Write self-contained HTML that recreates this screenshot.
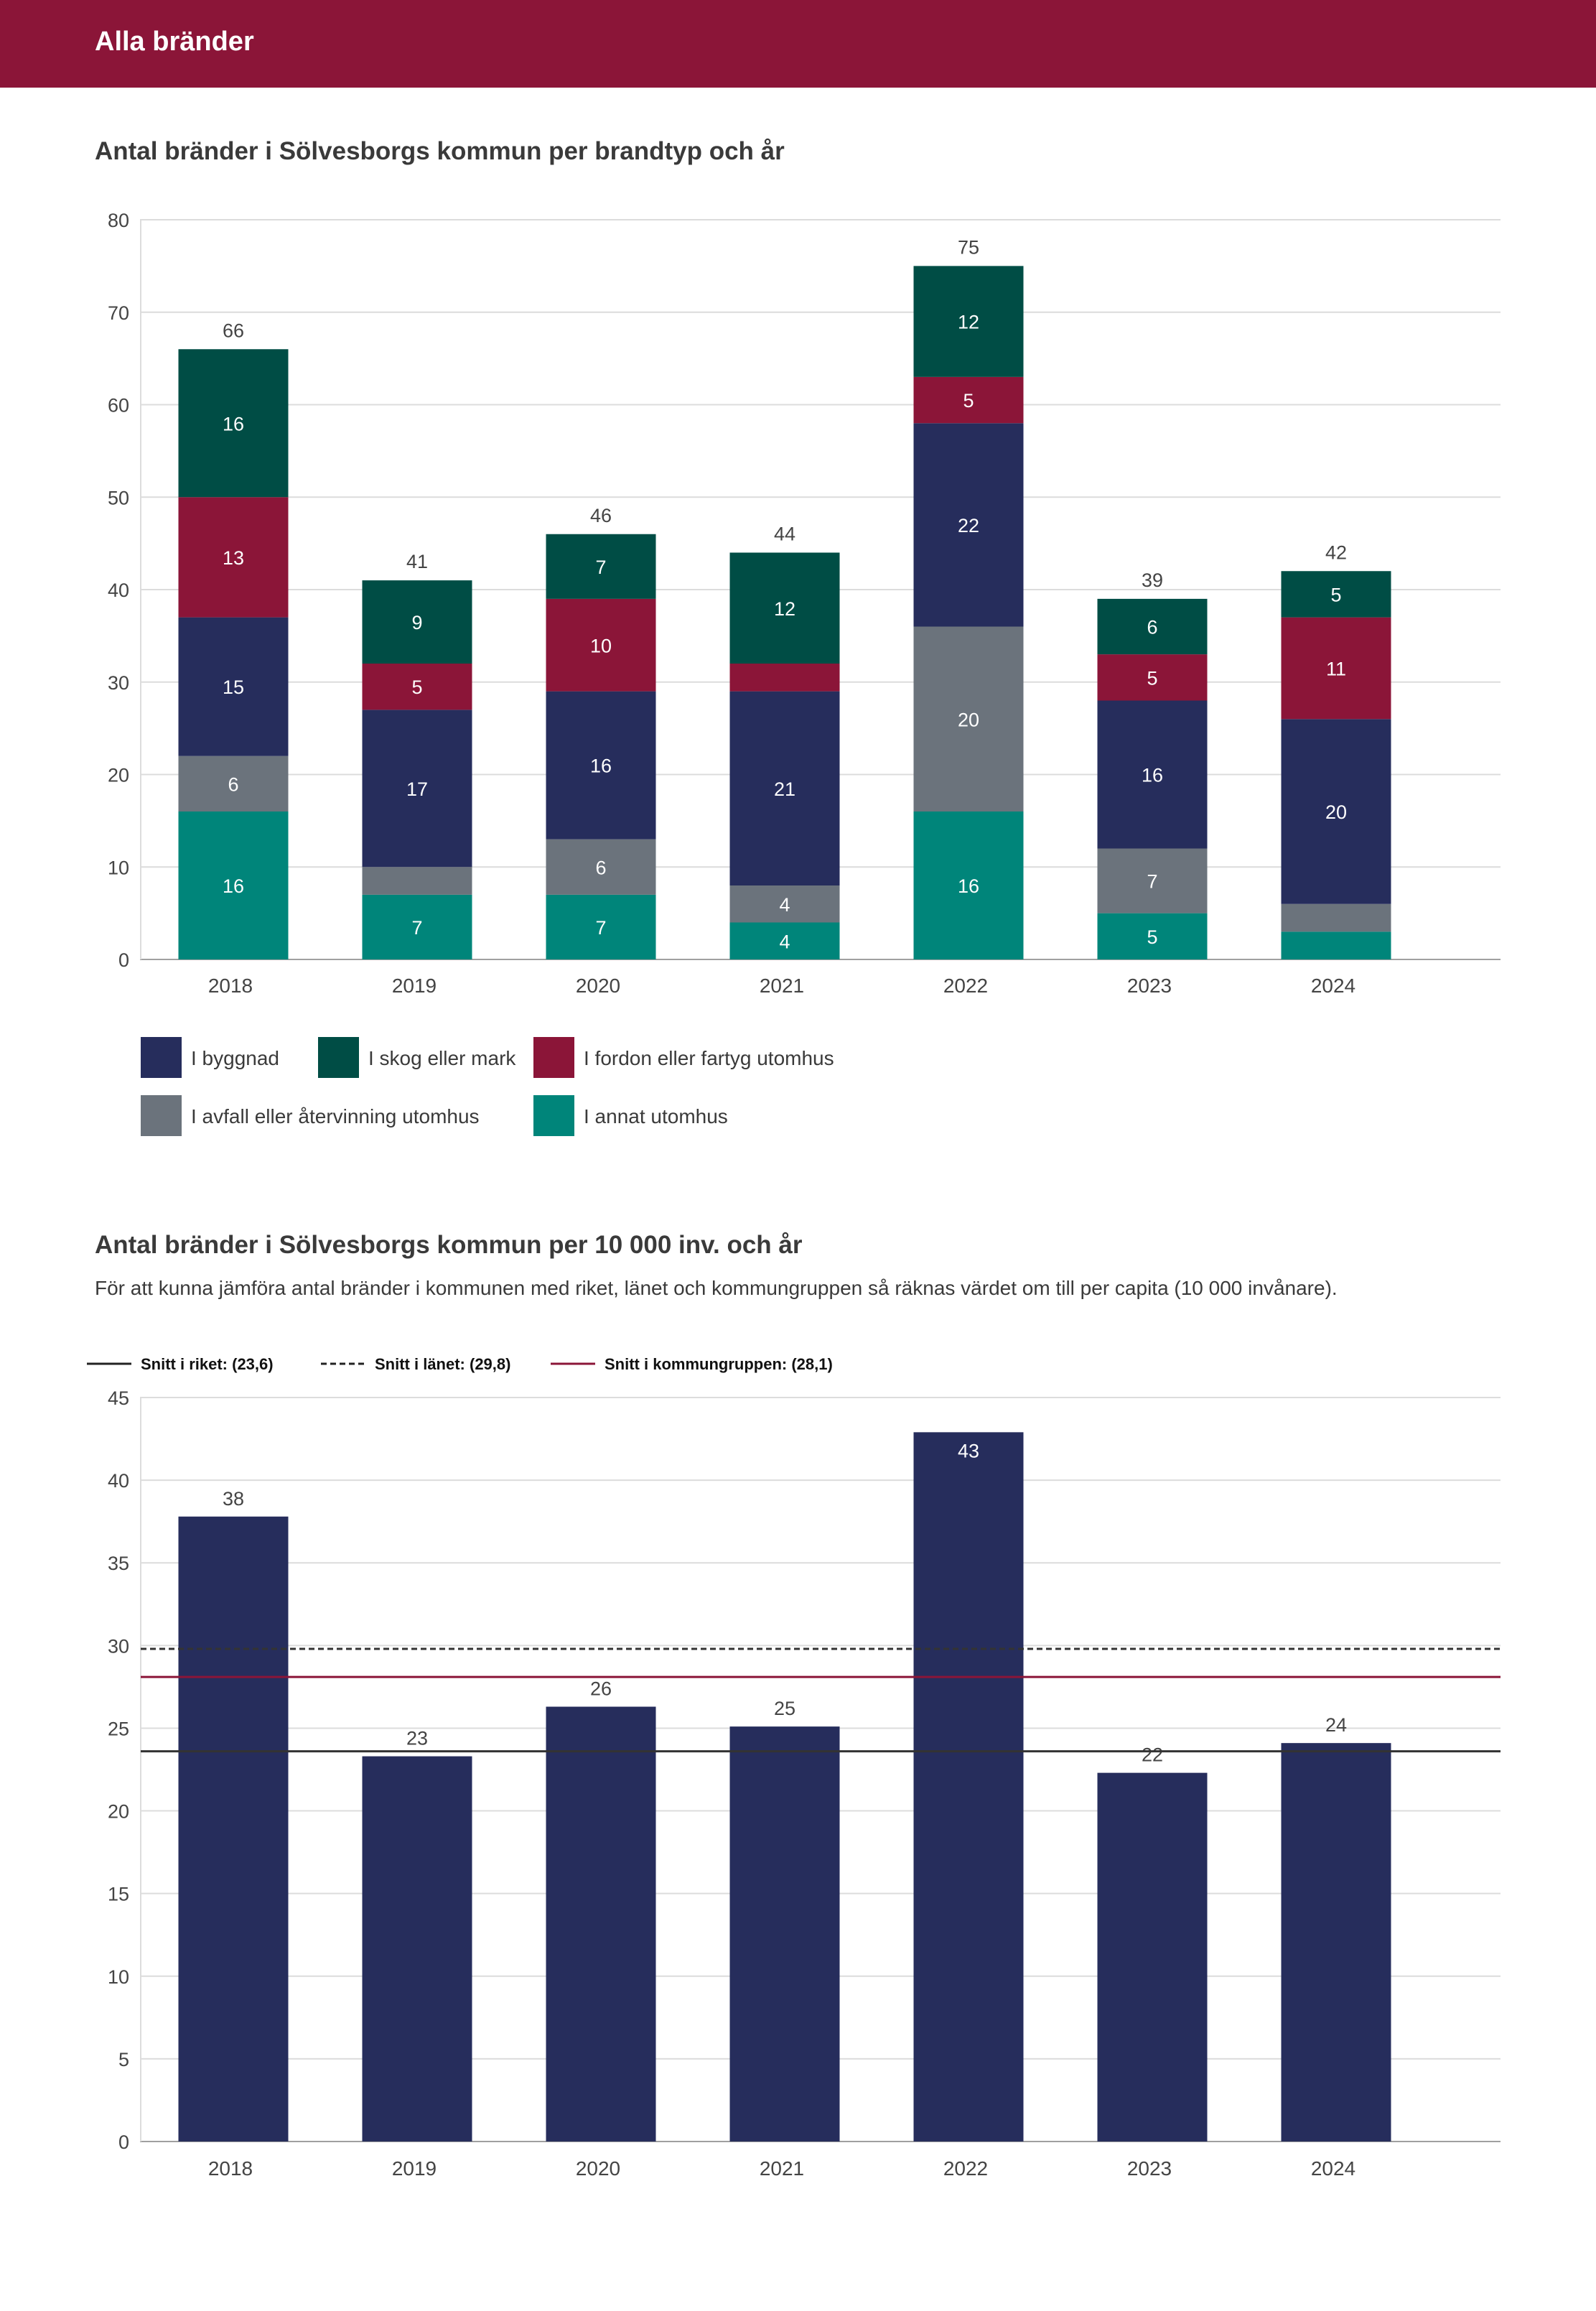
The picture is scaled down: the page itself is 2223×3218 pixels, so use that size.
<!DOCTYPE html>
<html><head><meta charset="utf-8"><style>
html,body{margin:0;padding:0;background:#fff;}
body{width:2223px;height:3213px;overflow:hidden;font-family:"Liberation Sans",sans-serif;}
text{font-family:"Liberation Sans",sans-serif;}
</style></head><body>
<svg id="s" width="2223" height="3213" viewBox="0 0 2223 3213" xmlns="http://www.w3.org/2000/svg">
<rect x="0" y="0" width="2223" height="122" fill="#8B1538"/>
<text x="132" y="70" font-size="38" font-weight="bold" fill="#fff">Alla bränder</text>
<text x="132" y="222" font-size="35" font-weight="bold" fill="#3a3a3a">Antal bränder i Sölvesborgs kommun per brandtyp och år</text>
<g id="c1"></g>
<g id="leg1"></g>
<text x="132" y="1745" font-size="35" font-weight="bold" fill="#3a3a3a">Antal bränder i Sölvesborgs kommun per 10 000 inv. och år</text>
<text x="132" y="1803" font-size="28" fill="#3a3a3a">För att kunna jämföra antal bränder i kommunen med riket, länet och kommungruppen så räknas värdet om till per capita (10 000 invånare).</text>
<g id="leg2"></g>
<g id="c2"></g>
</svg>
<script>
const years=["2018","2019","2020","2021","2022","2023","2024"];
const annat=[16,7,7,4,16,5,3];
const avfall=[6,3,6,4,20,7,3];
const byggnad=[15,17,16,21,22,16,20];
const fordon=[13,5,10,3,5,5,11];
const skog=[16,9,7,12,12,6,5];
const ticks1=[0,10,20,30,40,50,60,70,80];
const perCapita=[37.8,23.3,26.3,25.1,42.9,22.3,24.1];
const ticks2=[0,5,10,15,20,25,30,35,40,45];
const refRiket=23.6, refLanet=29.8, refGrupp=28.1;

const NS="http://www.w3.org/2000/svg";
function mk(tag,attrs,parent,txt){const e=document.createElementNS(NS,tag);for(const k in attrs)e.setAttribute(k,attrs[k]);if(txt!==undefined)e.textContent=txt;parent.appendChild(e);return e;}
const X0=197,BAND=256,BW=153,PR=2090;
function bx(i){return X0+BAND*i+(BAND-BW)/2;}

// chart 1
const c1=document.getElementById('c1');
const Y1=v=>1336-v*(1336-306)/80;
ticks1.forEach(t=>{
 const l=mk('line',{x1:195,x2:PR,y1:Y1(t),y2:Y1(t),stroke:t===0?'#a0a0a0':'#dcdcdc','stroke-width':2},c1);
 
 const tx=mk('text',{x:180,y:Y1(t)+10,'font-size':27,fill:'#444','text-anchor':'end'},c1,t);
 
});
const ax=mk('line',{x1:196,x2:196,y1:306,y2:1336,stroke:'#dcdcdc','stroke-width':2},c1);

const series=[{n:'annat',d:annat,c:'#00857A'},{n:'avfall',d:avfall,c:'#6B737C'},{n:'byggnad',d:byggnad,c:'#262D5C'},{n:'fordon',d:fordon,c:'#8B1538'},{n:'skog',d:skog,c:'#004D45'}];
years.forEach((y,i)=>{
 let base=0;
 series.forEach(s=>{
  const v=s.d[i];
  const r=mk('rect',{x:bx(i),y:Y1(base+v),width:BW,height:Y1(base)-Y1(base+v),fill:s.c},c1);
  
  if(v>=4){const t=mk('text',{x:bx(i)+BW/2,y:(Y1(base)+Y1(base+v))/2+10,'font-size':27,fill:'#fff','text-anchor':'middle'},c1,v);
   }
  base+=v;
 });
 const tt=mk('text',{x:bx(i)+BW/2,y:Y1(base)-17,'font-size':27,fill:'#444','text-anchor':'middle'},c1,base);
 
 const xl=mk('text',{x:bx(i)+BW/2-4,y:1382,'font-size':28,fill:'#444','text-anchor':'middle'},c1,y);
 
});
// legend 1
const leg1=document.getElementById('leg1');
[[196,1444,'#262D5C','I byggnad'],[443,1444,'#004D45','I skog eller mark'],[743,1444,'#8B1538','I fordon eller fartyg utomhus'],[196,1525,'#6B737C','I avfall eller återvinning utomhus'],[743,1525,'#00857A','I annat utomhus']].forEach(e=>{
 const r=mk('rect',{x:e[0],y:e[1],width:57,height:57,fill:e[2]},leg1);
 
 const t=mk('text',{x:e[0]+70,y:e[1]+39,'font-size':28,fill:'#3a3a3a'},leg1,e[3]);
 
});
// legend 2
const leg2=document.getElementById('leg2');
[[121,'#222',null,'Snitt i riket: (23,6)'],[447,'#222','8 5','Snitt i länet: (29,8)'],[767,'#8B1538',null,'Snitt i kommungruppen: (28,1)']].forEach(e=>{
 const a={x1:e[0],x2:e[0]+62,y1:1899,y2:1899,stroke:e[1],'stroke-width':3};if(e[2])a['stroke-dasharray']=e[2];
 const l=mk('line',a,leg2);
 const t=mk('text',{x:e[0]+75,y:1907,'font-size':22,'font-weight':'bold',fill:'#111'},leg2,e[3]);
 
});
// chart 2
const c2=document.getElementById('c2');
const Y2=v=>2982-v*(2982-1946)/45;
ticks2.forEach(t=>{
 const l=mk('line',{x1:195,x2:PR,y1:Y2(t),y2:Y2(t),stroke:t===0?'#a0a0a0':'#dcdcdc','stroke-width':2},c2);
 
 const tx=mk('text',{x:180,y:Y2(t)+10,'font-size':27,fill:'#444','text-anchor':'end'},c2,t);
 
});
const ax2=mk('line',{x1:196,x2:196,y1:1946,y2:2982,stroke:'#dcdcdc','stroke-width':2},c2);

years.forEach((y,i)=>{
 const v=perCapita[i];
 const r=mk('rect',{x:bx(i),y:Y2(v),width:BW,height:Y2(0)-Y2(v),fill:'#262D5C'},c2);
 
 const inside=Y2(v)-60<1946;
 const t=mk('text',{x:bx(i)+BW/2,y:inside?Y2(v)+35:Y2(v)-16,'font-size':27,fill:inside?'#fff':'#444','text-anchor':'middle'},c2,Math.round(v));
 
 const xl=mk('text',{x:bx(i)+BW/2-4,y:3029,'font-size':28,fill:'#444','text-anchor':'middle'},c2,y);
 
});
[[refLanet,'#333','8 5','lanet-line'],[refGrupp,'#8B1538',null,'kommungrupp-line'],[refRiket,'#333',null,'riket-line']].forEach(e=>{
 const a={x1:196,x2:PR,y1:Y2(e[0]),y2:Y2(e[0]),stroke:e[1],'stroke-width':3};if(e[2])a['stroke-dasharray']=e[2];
 const l=mk('line',a,c2);
});
</script>
</body></html>
